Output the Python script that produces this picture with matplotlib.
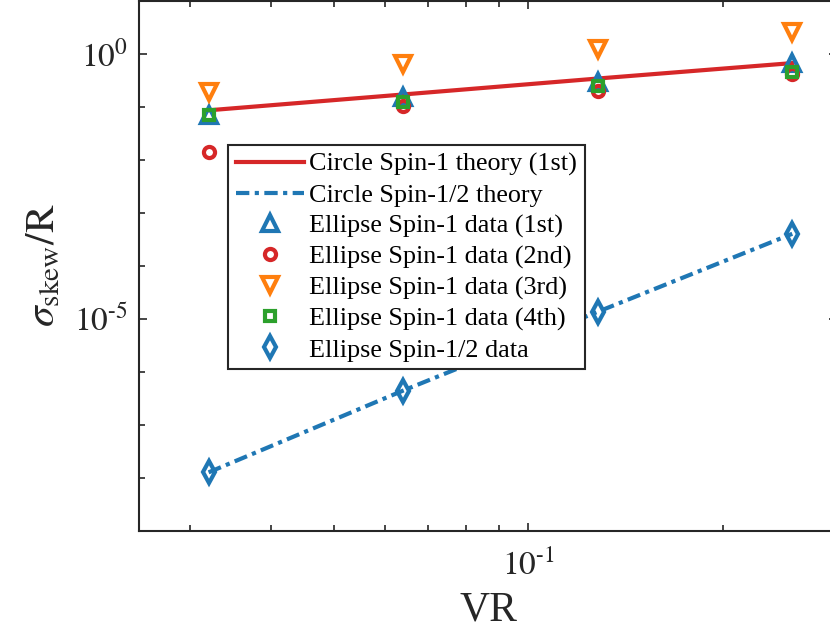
import matplotlib
matplotlib.use('Agg')
import matplotlib.pyplot as plt
from matplotlib.ticker import FixedLocator, LogLocator, NullFormatter

# data
vr = [0.032, 0.064, 0.128, 0.256]
theory_spin1 = [0.0855, 0.17, 0.34, 0.665]
theory_spin_half = [1.26e-8, 4.4e-7, 1.35e-5, 4.0e-4]
ellipse_1st = [0.069, 0.152, 0.29, 0.66]
ellipse_2nd = [0.0138, 0.102, 0.20, 0.42]
ellipse_3rd = [0.189, 0.65, 1.24, 2.55]
ellipse_4th = [0.069, 0.123, 0.25, 0.45]
ellipse_half = [1.26e-8, 4.4e-7, 1.35e-5, 4.0e-4]

labels = ['Circle Spin-1 theory (1st)', 'Circle Spin-1/2 theory',
          'Ellipse Spin-1 data (1st)', 'Ellipse Spin-1 data (2nd)',
          'Ellipse Spin-1 data (3rd)', 'Ellipse Spin-1 data (4th)',
          'Ellipse Spin-1/2 data']

plt.rcParams['font.family'] = ['Liberation Serif', 'DejaVu Serif']
plt.rcParams['mathtext.fontset'] = 'stix'
ink = '#262626'

fig = plt.figure(figsize=(8.3, 6.38), dpi=100)
ax = fig.add_axes([0.1678, 0.1682, 0.8404, 0.8307])

ax.plot(vr, theory_spin1, '-', color='#d62728', lw=3, label=labels[0])
ax.plot(vr, theory_spin_half, color='#1f77b4', lw=3,
        dashes=(3.2, 1.3, 1.0, 1.3), label=labels[1])
ax.plot(vr, ellipse_1st, '^', ls='none', ms=12, mew=3, mfc='none',
        mec='#1f77b4', label=labels[2])
ax.plot(vr, ellipse_2nd, 'o', ls='none', ms=8, mew=3, mfc='none',
        mec='#d62728', label=labels[3])
ax.plot(vr, ellipse_3rd, 'v', ls='none', ms=12, mew=3, mfc='none',
        mec='#ff7f0e', label=labels[4])
ax.plot(vr, ellipse_4th, 's', ls='none', ms=7, mew=3, mfc='none',
        mec='#2ca02c', label=labels[5])
ax.plot(vr, ellipse_half, 'd', ls='none', ms=11, mew=3, mfc='none',
        mec='#1f77b4', label=labels[6])

ax.set_xscale('log')
ax.set_yscale('log')
ax.set_xlim(0.025, 0.3)
ax.set_ylim(1e-9, 10)

ax.yaxis.set_major_locator(FixedLocator([1e-5, 1e0]))
ax.yaxis.set_minor_locator(FixedLocator([10.0 ** k for k in range(-9, 2)]))
ax.yaxis.set_minor_formatter(NullFormatter())
ax.set_yticks([1e-5, 1e0])
ax.set_yticklabels([r'$10^{\text{-}5}$', r'$10^{0}$'])
ax.xaxis.set_major_locator(FixedLocator([0.1]))
ax.xaxis.set_minor_locator(LogLocator(base=10, subs=range(2, 10), numticks=20))
ax.xaxis.set_minor_formatter(NullFormatter())
ax.set_xticklabels([r'$10^{\text{-}1}$'])

ax.tick_params(which='both', direction='in', top=True, right=True,
               colors=ink, labelsize=24, width=1.2)
ax.tick_params(which='major', length=6)
ax.tick_params(which='minor', length=4)
ax.tick_params(axis='x', pad=14)
ax.tick_params(axis='y', pad=8)
for sp in ax.spines.values():
    sp.set_color(ink)
    sp.set_linewidth(1.5)

ax.set_xlabel('VR', fontsize=30, color=ink, labelpad=6)
ax.set_ylabel(r'$\sigma_{\mathrm{skew}}/\mathrm{R}$', fontsize=30, color=ink, labelpad=8)

leg = ax.legend(loc='upper left', bbox_to_anchor=(0.127, 0.728), fontsize=18.8,
                fancybox=False, framealpha=1, edgecolor=ink, handlelength=2.6,
                labelspacing=0.28, borderpad=0.3, handletextpad=0.2,
                borderaxespad=0)
leg.get_frame().set_linewidth(1.5)
for t in leg.get_texts():
    t.set_color('black')

fig.savefig('out.png', dpi=100)
